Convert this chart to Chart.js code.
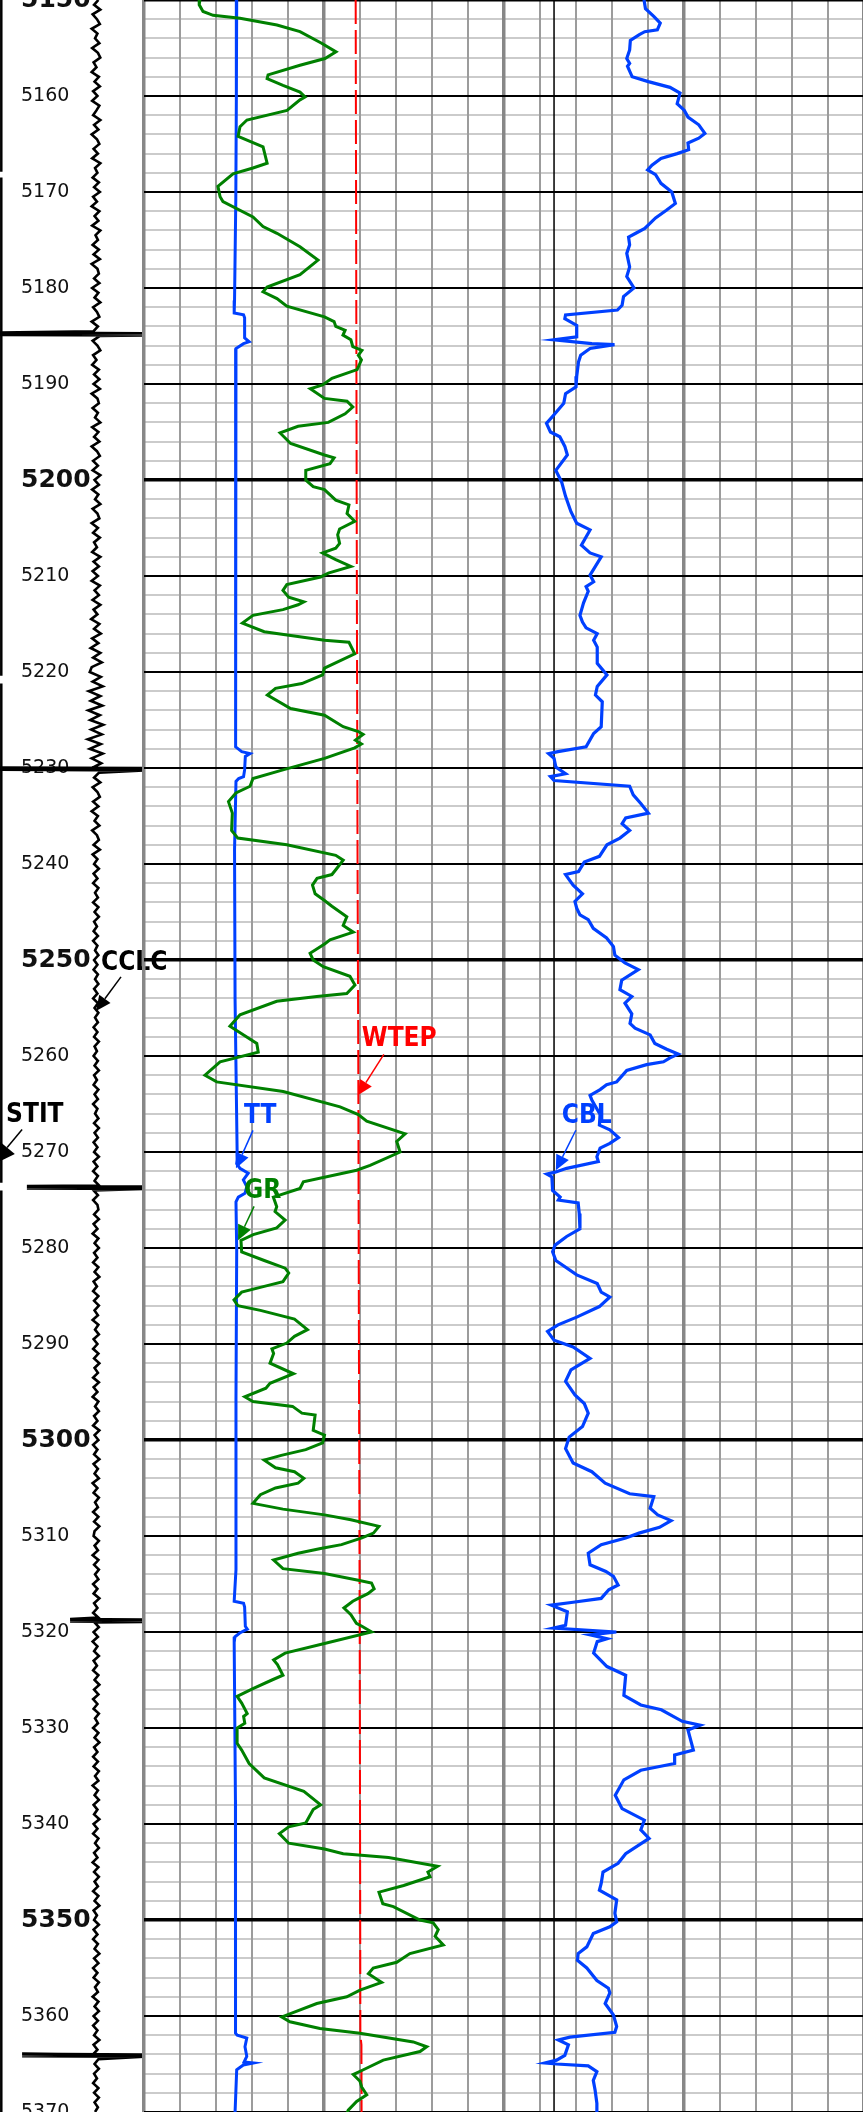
<!DOCTYPE html>
<html lang="en">
<head>
<meta charset="UTF-8">
<title>Cased hole log 5150 - 5370</title>
<script src="https://cdn.jsdelivr.net/npm/chart.js"></script>
<style>
  html, body { margin: 0; padding: 0; background: #fff; }
  body { width: 863px; height: 2112px; overflow: hidden; position: relative; }
  canvas { position: absolute; top: 0; }
  #depthTrack { left: 0; }
  #logTrack { left: 142px; }
</style>
</head>
<body>
<canvas id="depthTrack" width="863" height="2112"></canvas>
<canvas id="logTrack" width="722" height="2112"></canvas>
<script>
const TOP = 5150, BOTTOM = 5370;

// Gamma ray (API)
const grDepth = [
  5150.0,5150.5,5151.2,5151.6,5151.9,5152.6,5153.3,5154.5,5155.4,5156.1,
  5156.8,5157.8,5158.2,5158.9,5159.6,5160.1,5160.4,5161.5,5162.5,5163.2,
  5164.2,5165.3,5167.0,5167.5,5168.1,5169.4,5170.5,5171.0,5172.6,5173.6,
  5174.3,5175.7,5177.1,5178.6,5179.9,5180.4,5181.1,5181.9,5183.0,5183.5,
  5184.0,5184.4,5184.9,5185.4,5186.1,5186.5,5187.0,5187.5,5188.5,5189.4,
  5190.1,5190.5,5191.5,5191.8,5192.4,5193.1,5194.0,5194.4,5195.1,5196.2,
  5197.4,5197.7,5198.3,5199.0,5200.0,5200.7,5201.0,5202.1,5202.6,5203.5,
  5204.3,5205.1,5205.7,5206.6,5207.1,5207.6,5208.3,5209.0,5209.7,5210.1,
  5210.9,5211.5,5212.2,5212.7,5213.0,5213.5,5214.1,5214.9,5215.8,5216.7,
  5216.9,5218.1,5219.6,5220.3,5221.2,5221.7,5222.4,5223.8,5224.5,5225.7,
  5226.2,5226.5,5227.1,5227.5,5227.9,5229.0,5230.2,5231.1,5231.9,5232.6,
  5233.5,5234.7,5236.5,5237.3,5238.0,5239.1,5239.6,5240.6,5241.1,5241.5,
  5242.2,5243.1,5243.8,5244.4,5245.5,5246.4,5247.1,5247.9,5248.3,5249.3,
  5250.0,5250.7,5251.7,5252.6,5253.5,5253.8,5254.3,5255.7,5256.9,5258.7,
  5259.6,5260.6,5262.0,5262.7,5263.7,5265.3,5266.1,5266.8,5268.1,5268.9,
  5270.0,5271.4,5271.9,5273.1,5273.8,5274.7,5275.7,5276.2,5277.1,5277.9,
  5278.6,5279.2,5280.4,5281.3,5282.1,5282.6,5283.5,5284.0,5284.6,5285.4,
  5286.0,5286.5,5287.4,5288.5,5289.2,5289.9,5290.5,5291.0,5292.0,5293.1,
  5294.1,5294.6,5295.5,5296.0,5296.5,5297.2,5297.4,5299.0,5299.5,5300.3,
  5301.0,5301.6,5302.1,5302.9,5303.3,5304.0,5304.5,5305.0,5305.7,5306.6,
  5307.2,5307.8,5308.3,5309.0,5309.7,5310.2,5310.9,5311.3,5311.8,5312.5,
  5313.4,5313.9,5314.6,5314.9,5315.5,5316.0,5316.5,5316.8,5317.5,5318.2,
  5319.1,5319.4,5320.0,5321.2,5322.2,5322.9,5323.4,5324.5,5325.0,5325.9,
  5326.7,5327.4,5328.5,5328.8,5329.5,5330.0,5331.6,5332.3,5333.7,5335.2,
  5336.6,5338.0,5338.5,5339.9,5340.3,5341.0,5342.0,5342.6,5343.1,5343.5,
  5344.4,5345.0,5345.5,5346.4,5347.1,5348.3,5348.6,5350.0,5350.3,5351.0,
  5351.7,5352.6,5353.5,5354.4,5355.0,5355.6,5356.5,5357.3,5358.0,5358.7,
  5360.1,5360.6,5361.3,5361.8,5362.7,5363.2,5363.7,5364.6,5365.6,5366.1,
  5366.8,5367.4,5368.2,5368.9,5369.8,5370.5
];
const grApi = [
  23.3,23.0,24.6,28.8,40.0,55.4,65.0,74.0,80.0,75.4,
  65.0,51.7,51.3,57.9,65.0,67.1,65.0,59.6,42.9,40.0,
  39.2,49.6,51.3,45.4,37.1,30.8,31.7,32.9,45.4,49.6,
  55.4,65.0,72.5,65.0,51.3,49.6,55.4,59.5,75.2,79.2,
  79.9,83.8,82.9,86.2,87.0,90.8,89.3,90.6,88.8,78.3,
  74.4,69.3,75.2,84.6,87.0,83.8,76.8,64.2,56.7,61.1,
  75.2,79.2,77.5,67.4,67.4,70.5,75.2,79.9,85.4,84.6,
  87.8,81.5,80.7,81.5,79.9,74.4,79.9,86.2,76.8,73.6,
  59.5,57.9,60.3,66.6,64.2,57.9,45.4,41.0,50.1,75.2,
  85.4,87.8,75.2,74.4,65.8,54.8,51.4,61.1,75.2,83.0,
  89.3,91.3,88.1,90.6,87.8,75.2,57.9,45.4,44.2,38.3,
  35.2,36.8,36.5,39.1,59.5,79.9,83.0,79.9,78.3,72.1,
  70.2,71.3,75.2,78.3,84.5,83.0,87.2,77.5,75.4,69.2,
  70.5,74.7,85.8,87.9,84.5,72.0,55.3,40.0,35.8,47.0,
  47.6,31.7,25.4,30.3,58.0,81.7,89.3,92.8,108.8,105.3,
  106.7,94.2,88.6,66.4,65.0,53.9,55.3,54.6,58.8,55.3,
  45.5,40.4,40.7,50.1,58.8,60.3,57.9,50.1,40.7,37.5,
  39.1,48.5,62.7,68.1,62.7,59.5,53.3,54.0,52.5,62.3,
  52.5,50.8,42.0,45.4,61.9,65.8,71.3,70.5,75.2,74.4,
  67.4,57.2,50.1,54.8,62.7,66.6,64.2,54.8,48.5,45.4,
  57.9,75.2,86.2,97.9,95.6,90.8,82.3,73.6,64.2,54.0,
  57.9,75.2,89.3,94.8,95.9,93.3,89.3,87.0,83.3,86.2,
  88.5,90.8,94.8,75.2,58.8,54.0,55.6,57.9,53.3,45.4,
  38.8,40.7,43.0,41.5,42.0,38.8,38.8,40.7,43.8,50.1,
  66.6,73.6,70.5,67.4,60.3,56.4,60.3,75.2,83.0,101.9,
  122.3,118.3,119.2,108.2,97.9,99.5,103.9,115.0,120.5,122.6,
  121.3,124.7,110.8,105.3,95.5,93.5,99.0,90.0,84.5,72.0,
  57.4,60.8,73.3,90.0,112.2,117.8,115.0,99.7,91.4,87.2,
  90.0,90.7,92.8,88.6,85.1,84.0
];

// Cement bond amplitude (mV)
const cblDepth = [
  5150.0,5150.9,5151.7,5152.4,5153.1,5153.3,5153.6,5154.2,5155.2,5156.1,
  5156.6,5156.9,5158.0,5158.5,5159.1,5159.7,5160.8,5161.5,5162.2,5163.0,
  5163.9,5164.4,5164.9,5165.6,5166.0,5166.5,5167.2,5167.7,5168.2,5169.1,
  5170.0,5171.2,5171.9,5172.7,5173.8,5174.3,5174.7,5175.5,5176.4,5177.8,
  5178.8,5180.0,5180.9,5181.8,5182.3,5182.8,5183.2,5183.9,5185.1,5185.4,
  5185.8,5185.9,5186.3,5187.0,5187.7,5189.2,5190.3,5191.0,5192.0,5193.2,
  5194.1,5195.0,5195.5,5196.5,5197.4,5199.0,5200.2,5201.7,5203.3,5204.5,
  5205.2,5206.8,5207.6,5208.0,5209.9,5210.6,5211.1,5211.6,5212.8,5214.1,
  5214.8,5215.4,5216.0,5216.7,5217.4,5219.1,5220.3,5221.5,5222.4,5223.1,
  5225.7,5226.4,5227.8,5228.3,5228.5,5229.0,5229.9,5230.6,5230.9,5231.3,
  5231.9,5232.8,5233.7,5234.7,5235.2,5235.8,5236.5,5237.3,5238.0,5239.2,
  5239.8,5240.8,5241.1,5242.2,5243.1,5243.9,5244.6,5245.3,5245.8,5246.7,
  5247.7,5248.6,5249.5,5250.3,5251.0,5252.1,5253.1,5253.8,5254.5,5255.6,
  5256.6,5257.1,5257.8,5258.7,5259.3,5259.8,5260.2,5260.6,5260.9,5261.5,
  5262.7,5263.0,5263.5,5264.1,5264.6,5266.1,5267.2,5267.7,5268.5,5269.1,
  5269.6,5270.5,5271.0,5271.7,5272.1,5272.3,5272.6,5274.0,5274.7,5275.0,
  5275.3,5276.4,5278.0,5278.8,5279.7,5280.4,5281.3,5282.8,5283.7,5284.6,
  5285.1,5286.1,5287.2,5288.0,5288.7,5289.6,5290.3,5291.5,5292.7,5293.9,
  5295.3,5296.2,5297.2,5298.6,5299.7,5300.9,5302.4,5303.3,5304.5,5305.6,
  5305.9,5307.1,5307.8,5308.4,5309.1,5309.7,5310.2,5310.9,5311.8,5313.0,
  5313.7,5314.2,5315.1,5315.6,5316.5,5316.9,5317.2,5317.9,5319.3,5319.6,
  5320.0,5320.3,5320.7,5321.0,5322.2,5323.6,5324.5,5326.6,5327.6,5328.1,
  5329.3,5329.7,5330.2,5332.3,5332.8,5333.7,5334.4,5335.4,5337.0,5338.4,
  5339.6,5340.6,5341.5,5343.1,5344.1,5345.0,5346.2,5346.9,5347.9,5349.3,
  5350.2,5350.7,5351.4,5352.8,5353.5,5354.2,5355.0,5356.3,5357.1,5357.6,
  5358.7,5359.9,5361.1,5361.7,5362.2,5362.5,5363.0,5364.1,5364.6,5364.9,
  5365.0,5365.2,5365.8,5366.7,5367.7,5369.1,5370.0
];
const cblMv = [
  38.9,39.3,41.6,43.4,42.6,39.1,37.6,35.1,34.9,34.1,
  34.9,34.3,35.6,40.1,46.1,48.9,48.1,50.1,51.1,54.1,
  55.8,54.1,51.1,51.3,48.1,43.6,41.1,39.9,42.1,43.6,
  46.6,47.6,45.1,42.1,39.1,36.6,34.6,34.9,34.1,34.9,
  34.1,36.1,33.2,32.8,31.5,17.1,16.9,20.2,20.2,13.9,
  24.4,30.7,23.9,21.3,20.7,20.2,20.0,17.1,16.6,13.9,
  11.8,12.9,15.5,16.9,17.6,14.4,16.0,17.1,18.6,20.2,
  23.9,21.5,23.9,27.0,23.9,24.9,22.8,23.4,22.1,21.1,
  21.8,22.8,25.9,24.9,25.9,25.9,28.6,25.9,25.4,27.3,
  27.0,24.9,22.8,15.0,12.4,13.9,14.4,17.1,12.9,13.9,
  34.9,35.9,38.0,40.1,33.8,32.8,34.9,32.2,28.6,26.5,
  22.3,20.7,17.1,19.2,21.8,19.7,20.2,21.1,23.4,24.8,
  28.5,30.4,30.8,33.6,37.3,32.7,32.2,35.5,33.6,35.5,
  35.0,36.4,40.6,41.9,45.2,48.4,46.1,44.3,39.6,34.1,
  31.3,28.5,26.7,23.9,24.4,26.7,26.5,29.4,31.8,29.4,
  26.7,25.8,26.2,17.4,14.2,11.9,13.3,13.5,15.6,15.1,
  20.6,20.9,21.1,17.4,14.2,13.5,14.4,20.2,25.9,27.0,
  29.4,26.5,20.2,15.0,12.1,13.9,19.2,23.9,18.6,17.1,
  19.7,22.3,23.4,21.8,18.1,17.1,19.2,24.4,28.1,34.9,
  41.6,40.6,42.7,46.4,43.2,37.5,33.8,27.0,23.4,23.9,
  28.3,30.4,31.7,29.1,27.0,19.2,13.1,17.6,17.1,13.7,
  31.2,23.9,28.6,25.9,24.9,28.6,33.8,33.3,38.0,43.7,
  49.5,54.5,51.1,52.6,47.4,47.4,38.0,33.3,30.9,32.8,
  39.0,38.0,40.3,33.8,31.7,27.5,27.0,26.5,31.3,30.8,
  31.3,29.4,24.8,23.0,20.6,20.4,23.0,25.8,29.0,29.4,
  28.1,30.4,31.3,30.8,18.3,15.1,17.9,16.9,14.6,11.4,
  14.6,23.4,25.8,24.8,25.3,25.8,25.8
];
const cblMarker = 13.9;

// Transit time (us)
const ttDepth = [
  5150.0,5160.4,5170.8,5181.3,5182.6,5182.8,5183.1,5185.2,5185.6,5185.8,
  5186.3,5186.6,5196.9,5212.5,5227.8,5228.3,5228.5,5228.8,5230.2,5230.9,
  5231.1,5231.4,5238.5,5254.2,5270.8,5271.2,5271.7,5272.2,5272.9,5273.6,
  5274.3,5274.7,5275.2,5280.2,5295.8,5313.5,5316.8,5317.0,5317.4,5319.4,
  5319.7,5320.1,5320.5,5321.1,5337.5,5349.0,5361.8,5362.0,5362.3,5363.2,
  5364.2,5364.8,5364.9,5365.1,5365.6,5370.0
];
const ttUs = [
  348.5,348.7,349.0,349.7,349.9,344.7,344.1,344.1,341.6,344.7,
  348.9,349.3,349.2,349.0,348.9,345.7,341.1,343.7,344.1,344.7,
  347.4,348.9,349.7,349.4,348.2,348.5,346.7,342.1,344.8,342.9,
  343.9,347.6,348.9,348.5,348.9,348.9,349.9,344.7,344.1,343.7,
  342.6,346.8,349.5,349.9,349.2,348.9,349.4,348.2,342.9,343.9,
  342.9,344.4,339.3,344.8,348.5,349.4
];

// Well temperature (degF)
const wtepDepth = [5150, 5180, 5210, 5240, 5260, 5290, 5320, 5345, 5362, 5363, 5370];
const wtepF = [169.40, 169.48, 169.56, 169.66, 169.76, 169.85, 169.96, 170.02, 170.05, 170.20, 170.22];

// Casing collar locator, sampled every half foot from TOP
const CCL_STEP = 0.5;
const cclTrace = [
  0.5,-0.4,0.9,-0.7,0.2,0.8,-0.9,0.3,-0.2,0.7,-0.8,0.4,0.9,-0.5,0.1,-0.9,0.6,-0.3,0.8,-0.6,
  0.3,-0.8,0.7,0.1,-0.6,0.9,-0.4,0.5,-0.9,0.2,0.7,-0.5,0.4,-0.8,0.9,-0.2,0.3,-0.7,0.6,-0.4,
  0.8,-0.6,0.2,-0.9,0.7,-0.3,0.5,-0.8,0.9,-0.1,0.4,-0.7,0.6,-0.5,0.8,-0.9,0.3,0.6,-0.4,0.7,
  -0.8,0.5,-0.3,0.9,-0.6,0.2,0.7,-0.9,0.4,-0.5,0.8,-0.7,0.3,0.9,-0.6,0.1,-0.8,0.6,-0.4,0.7,
  -0.5,0.8,-0.9,0.3,0.6,-0.7,0.4,-0.2,0.9,-0.8,0.5,-0.4,0.7,-0.9,0.2,0.8,-0.6,0.4,-0.7,0.9,
  -0.3,0.6,-0.8,0.5,-0.2,0.9,-0.7,0.3,0.7,-0.9,0.4,-0.6,0.8,-0.4,0.2,-0.8,0.9,-0.5,0.6,-0.7,
  0.4,-0.9,0.8,-0.3,0.6,-0.7,0.9,-0.5,0.3,-1.0,0.7,-0.4,1.0,-0.8,0.5,-1.1,0.9,-0.6,1.2,-0.9,
  -1.3,1.0,-0.7,1.4,-1.5,0.9,-1.1,1.3,-1.6,0.8,-1.2,1.5,-1.0,1.2,-1.7,1.0,-1.3,1.4,-0.9,1.1,
  -0.8,0.6,-0.4,0.9,-0.7,0.3,0.8,-0.6,0.5,-0.9,0.4,-0.3,0.7,-0.8,0.2,0.6,-0.5,0.8,-0.7,0.3,
  -0.4,0.6,-0.5,0.3,-0.6,0.5,-0.2,0.4,-0.6,0.5,-0.3,0.6,-0.4,0.2,-0.5,0.4,-0.6,0.3,-0.2,0.5,
  -0.4,0.3,-0.5,0.4,-0.2,0.5,-0.4,0.3,-0.6,0.4,-0.3,0.5,-0.2,0.4,-0.5,0.3,-0.4,0.6,-0.3,0.2,
  -0.5,0.4,-0.3,0.6,-0.4,0.2,-0.5,0.5,-0.3,0.4,-0.6,0.3,-0.2,0.5,-0.4,0.6,-0.3,0.4,-0.5,0.3,
  -0.4,0.6,-0.5,0.3,-0.6,0.4,-0.3,0.7,-0.5,0.4,-0.6,0.3,0.5,-0.4,0.6,-0.5,0.3,-0.7,0.5,-0.3,
  0.6,-0.4,0.3,-0.6,0.5,-0.3,0.7,-0.5,0.2,-0.6,0.5,-0.4,0.6,-0.3,0.4,-0.7,0.5,-0.2,0.6,-0.5,
  0.3,-0.6,0.5,-0.4,0.7,-0.3,0.4,-0.6,0.6,-0.5,0.3,-0.7,0.5,-0.2,0.6,-0.4,0.3,-0.6,0.7,-0.3,
  0.5,-0.6,0.3,-0.4,0.7,-0.5,0.4,-0.3,0.6,-0.7,0.3,-0.5,0.6,-0.2,0.4,-0.6,0.5,-0.4,0.7,-0.3,
  -0.5,0.6,-0.3,0.4,-0.7,0.5,-0.4,0.6,-0.2,0.5,-0.6,0.3,-0.5,0.7,-0.4,0.3,-0.6,0.5,-0.3,0.6,
  -0.5,0.4,-0.7,0.3,-0.4,0.6,-0.5,0.2,-0.6,0.5,-0.3,0.7,-0.4,0.5,-0.6,0.3,-0.5,0.6,-0.2,0.4,
  -0.6,0.5,-0.3,0.7,-0.4,0.3,-0.6,0.4,-0.5,0.6,-0.2,0.5,-0.7,0.4,-0.3,0.6,-0.5,0.3,-0.4,0.7,
  -0.5,0.3,-0.6,0.5,-0.2,0.6,-0.4,0.3,-0.7,0.5,-0.4,0.6,-0.3,0.4,-0.6,0.5,-0.3,0.7,-0.5,0.2,
  -0.4,0.6,-0.5,0.3,-0.6,0.4,-0.3,0.7,-0.4,0.5,-0.6,0.3,-0.5,0.6,-0.2,0.4,-0.7,0.5,-0.3,0.6,
  -0.5,0.4,-0.6,0.3,-0.4,0.7,-0.5,0.3,-0.6,0.5,-0.3,0.6,-0.4,0.2,-0.6,0.5,-0.4,0.6,-0.3,0.4,
  -0.2
];
const collarDepth = [5184.8, 5230.1, 5273.7, 5318.8, 5364.1];
const collarLow = [-20, -20, -14.4, -5.4, -15.4];
const collarHigh = [10, 10, 10, 10, 10];

// Tension trace, pegged at the left edge, with its dropouts
const stitLevel = 0.15;
const stitBreaks = [[5167.9, 5168.5], [5220.4, 5221.2], [5273.2, 5274.0]];

const pairs = (depths, values) => depths.map((d, i) => ({ x: values[i], y: d }));

// collar kicks are drawn as a tight zigzag so they read as a solid bar
const cclPoints = [];
let k = 0;
cclTrace.forEach((v, i) => {
  const d = TOP + i * CCL_STEP;
  while (k < collarDepth.length && collarDepth[k] < d) {
    const cd = collarDepth[k];
    [-0.15, -0.09, -0.03, 0.03, 0.09, 0.15].forEach((off, j) => {
      cclPoints.push({ x: j % 2 ? collarHigh[k] : collarLow[k], y: cd + off });
    });
    k++;
  }
  cclPoints.push({ x: v, y: d });
});

const stitPoints = [{ x: stitLevel, y: TOP }];
stitBreaks.forEach(([a, b]) => {
  stitPoints.push({ x: stitLevel, y: a }, { x: null, y: (a + b) / 2 }, { x: stitLevel, y: b });
});
stitPoints.push({ x: stitLevel, y: BOTTOM });

const NOTE_FONT = 'bold 26px "Liberation Sans Narrow", "DejaVu Sans Condensed", sans-serif';

// curve name tags with leader arrows
const depthNotes = [
  { text: 'CCLC', axis: 'x', value: 0, depth: 5255.3, color: '#000', label: [5, -41], tail: [25, -34], head: 15, half: 7 },
  { text: 'STIT', axis: 'stit', value: -0.8, depth: 5271.3, color: '#000', label: [13, -42], tail: [29, -35], head: 22, half: 10 }
];
const logNotes = [
  { text: 'TT', axis: 'tt', value: 348.9, depth: 5271.7, color: '#0040ff', label: [8, -45], tail: [17, -38], head: 15, half: 7 },
  { text: 'GR', axis: 'gr', value: 39.2, depth: 5279.2, color: '#008000', label: [6, -42], tail: [16, -34], head: 15, half: 7 },
  { text: 'WTEP', axis: 'wtep', value: 169.7, depth: 5264.1, color: '#ff0000', label: [4, -49], tail: [26, -41], head: 15, half: 7 },
  { text: 'CBL', axis: 'cbl', value: 14.4, depth: 5271.9, color: '#0040ff', label: [6, -47], tail: [20, -40], head: 15, half: 7 }
];

function drawNotes(chart, notes) {
  const ctx = chart.ctx;
  const ys = chart.scales.y;
  ctx.save();
  notes.forEach(n => {
    const tx = chart.scales[n.axis].getPixelForValue(n.value);
    const ty = ys.getPixelForValue(n.depth);
    const sx = tx + n.tail[0], sy = ty + n.tail[1];
    const ang = Math.atan2(ty - sy, tx - sx);
    const bx = tx - n.head * Math.cos(ang), by = ty - n.head * Math.sin(ang);
    ctx.strokeStyle = n.color;
    ctx.fillStyle = n.color;
    ctx.lineWidth = 1.5;
    ctx.beginPath();
    ctx.moveTo(sx, sy);
    ctx.lineTo(bx, by);
    ctx.stroke();
    ctx.beginPath();
    ctx.moveTo(tx, ty);
    ctx.lineTo(bx + n.half * Math.sin(ang), by - n.half * Math.cos(ang));
    ctx.lineTo(bx - n.half * Math.sin(ang), by + n.half * Math.cos(ang));
    ctx.closePath();
    ctx.fill();
    ctx.font = NOTE_FONT;
    ctx.textAlign = 'left';
    ctx.textBaseline = 'alphabetic';
    ctx.fillText(n.text, tx + n.label[0], ty + n.label[1]);
  });
  ctx.restore();
}

const flat = s => { s.width = 0; s.paddingTop = 0; s.paddingBottom = 0; };
const flatX = s => { s.height = 0; s.paddingLeft = 0; s.paddingRight = 0; };
const lineStyle = (color, width) => ({
  showLine: true, borderColor: color, borderWidth: width, pointRadius: 0, pointHoverRadius: 0, tension: 0
});

// depth track: depth numbers, CCL and tension
new Chart(document.getElementById('depthTrack'), {
  type: 'scatter',
  data: {
    datasets: [
      { label: 'CCLC', data: cclPoints, xAxisID: 'x', ...lineStyle('#000', 2.6) },
      { label: 'STIT', data: stitPoints, xAxisID: 'stit', spanGaps: false, ...lineStyle('#000', 2.5) }
    ]
  },
  options: {
    responsive: false,
    animation: false,
    devicePixelRatio: 1,
    layout: { padding: 0 },
    plugins: { legend: { display: false }, tooltip: { enabled: false } },
    scales: {
      x: { type: 'linear', min: -20, max: 159.8, display: false },
      stit: { type: 'linear', axis: 'x', min: 0, max: 100, display: false },
      y: {
        type: 'linear', min: TOP, max: BOTTOM, reverse: true, position: 'left',
        grid: { display: false, drawTicks: false },
        border: { display: false },
        ticks: {
          stepSize: 10, mirror: true, padding: 21, autoSkip: false,
          color: '#111',
          callback: v => String(v),
          font: c => (c.tick && c.tick.value % 50 === 0)
            ? { family: 'DejaVu Sans', size: 25, weight: 'bold' }
            : { family: 'DejaVu Sans', size: 19, weight: 'normal' }
        },
        afterFit: flat
      }
    }
  },
  plugins: [{ id: 'depthNotes', afterDatasetsDraw: c => drawNotes(c, depthNotes) }]
});

// log grid: GR, TT, WTEP in track 1, CBL in track 2
new Chart(document.getElementById('logTrack'), {
  type: 'scatter',
  data: {
    datasets: [
      { label: 'CBL', data: pairs(cblDepth, cblMv), xAxisID: 'cbl', ...lineStyle('#0040ff', 3.2) },
      { label: 'GR', data: pairs(grDepth, grApi), xAxisID: 'gr', ...lineStyle('#008000', 3) },
      { label: 'TT', data: pairs(ttDepth, ttUs), xAxisID: 'tt', ...lineStyle('#0040ff', 3) },
      { label: 'WTEP', data: pairs(wtepDepth, wtepF), xAxisID: 'wtep', borderDash: [24, 6], ...lineStyle('#ff0000', 2) },
      { label: 'CBL ref', data: [{ x: cblMarker, y: TOP }, { x: cblMarker, y: BOTTOM }], xAxisID: 'cbl', ...lineStyle('#000', 1.5) }
    ]
  },
  options: {
    responsive: false,
    animation: false,
    devicePixelRatio: 1,
    layout: { padding: { left: 2, right: 0, top: 0, bottom: 0 } },
    plugins: { legend: { display: false }, tooltip: { enabled: false } },
    scales: {
      y: {
        type: 'linear', min: TOP, max: BOTTOM, reverse: true,
        ticks: { display: false, stepSize: 2 },
        border: { display: false },
        grid: { drawTicks: false, z: -2, color: '#cbcbcb', lineWidth: 2 },
        afterFit: flat
      },
      x: {
        type: 'linear', min: 0, max: 20,
        ticks: { display: false, stepSize: 1 },
        border: { display: false },
        grid: {
          drawTicks: false, z: -1,
          color: c => c.tick.value % 5 === 0 ? '#878787' : '#9c9c9c',
          lineWidth: c => c.tick.value % 5 === 0 ? 3.5 : 2
        },
        afterFit: flatX
      },
      depthMajor: {
        type: 'linear', axis: 'y', min: TOP, max: BOTTOM, reverse: true,
        ticks: { display: false, stepSize: 10 },
        border: { display: false },
        grid: {
          drawTicks: false, z: 0, color: '#000',
          lineWidth: c => c.tick.value % 50 === 0 ? 3.5 : 2
        },
        afterFit: flat
      },
      gr: { type: 'linear', axis: 'x', min: 0, max: 300, display: false },
      tt: { type: 'linear', axis: 'x', min: 0, max: 400, reverse: true, display: false },
      cbl: { type: 'linear', axis: 'x', min: -100, max: 100, display: false },
      wtep: { type: 'linear', axis: 'x', min: 140, max: 240, display: false }
    }
  },
  plugins: [{ id: 'logNotes', afterDatasetsDraw: c => drawNotes(c, logNotes) }]
});
</script>
</body>
</html>
